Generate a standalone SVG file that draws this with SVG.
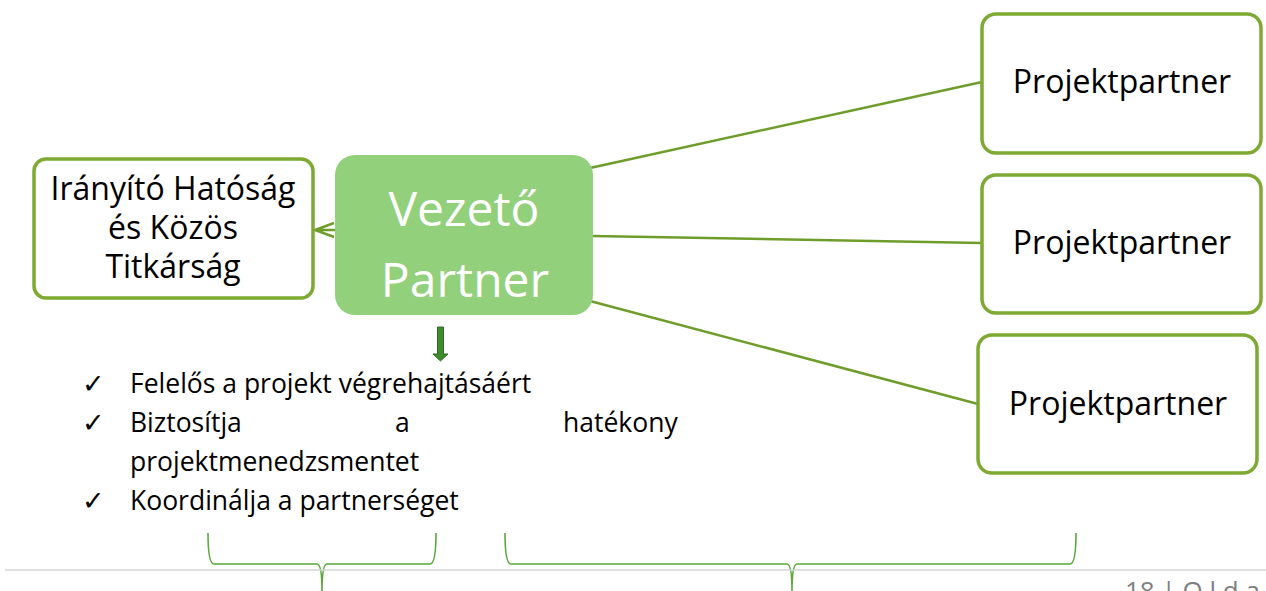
<svg xmlns="http://www.w3.org/2000/svg" width="1266" height="591" viewBox="0 0 1266 591">
<style>
.box{fill:#fff;stroke:#7ea932;stroke-width:3.5}
.t{font-family:"Open Sans","Noto Sans","DejaVu Sans",sans-serif;fill:#000}
.pp{font-size:32px;text-anchor:middle}
.li{font-size:26.5px}
.ck{font-size:27px;font-family:"DejaVu Sans",sans-serif}
.conn{stroke:#6f9d2c;stroke-width:2.5;fill:none}
.brace{stroke:#5aa83a;stroke-width:1.6;fill:none}
.w{fill:#fff;font-size:48px;text-anchor:middle}
</style>
<rect width="1266" height="591" fill="#fff"/>
<g id="connectors">
<line class="conn" x1="590" y1="168" x2="982" y2="82"/>
<line class="conn" x1="593" y1="236" x2="982" y2="243"/>
<line class="conn" x1="590" y1="301" x2="978" y2="404"/>
<path class="conn" d="M336 230 L315 230 M334 223 L315 230 L334 237" stroke-width="2"/>
</g>
<g id="lead-partner">
<rect x="335" y="155" width="258" height="160" rx="20" fill="#92d07c"/>
<text class="t w" x="464" y="226">Vezető</text>
<text class="t w" x="465" y="297">Partner</text>
</g>
<g id="managing-authority">
<rect class="box" x="34" y="159" width="279" height="139" rx="12"/>
<text class="t pp" x="173" y="200">Irányító Hatóság</text>
<text class="t pp" x="173" y="239">és Közös</text>
<text class="t pp" x="173" y="278">Titkárság</text>
</g>
<g id="partner1">
<rect class="box" x="982" y="14" width="279" height="139" rx="14"/>
<text class="t pp" x="1122" y="93">Projektpartner</text>
</g>
<g id="partner2">
<rect class="box" x="982" y="175" width="279" height="138" rx="14"/>
<text class="t pp" x="1122" y="254">Projektpartner</text>
</g>
<g id="partner3">
<rect class="box" x="978" y="335" width="279" height="138" rx="14"/>
<text class="t pp" x="1118" y="415">Projektpartner</text>
</g>
<g id="down-arrow">
<path d="M437.5 327 L443.5 327 L443.5 354 L448 354 L440.5 361 L433 354 L437.5 354 Z" fill="#3f8a2c" stroke="#2f6e22" stroke-width="1"/>
</g>
<g id="tasks">
<text class="t ck" x="82" y="393">✓</text>
<text class="t li" x="130" y="393">Felelős a projekt végrehajtásáért</text>
<text class="t ck" x="82" y="432">✓</text>
<text class="t li" x="130" y="432">Biztosítja</text>
<text class="t li" x="395" y="432">a</text>
<text class="t li" x="563" y="432">hatékony</text>
<text class="t li" x="130" y="471">projektmenedzsmentet</text>
<text class="t ck" x="82" y="510">✓</text>
<text class="t li" x="130" y="510">Koordinálja a partnerséget</text>
</g>
<g id="braces">
<path class="brace" d="M208 533 Q208 564 214 564 L317 564 Q322 564 322 591 Q322 564 327 564 L430 564 Q436 564 436 533"/>
<path class="brace" d="M505 533 Q505 564 511 564 L787 564 Q792 564 792 591 Q792 564 797 564 L1070 564 Q1076 564 1076 533"/>
</g>
<line x1="5" y1="570" x2="1266" y2="570" stroke="#d4d4d4" stroke-width="1.5"/>
<text class="t" x="1125" y="600" font-size="26" style="fill:#7f7f7f">18 | O l d a</text>
</svg>
